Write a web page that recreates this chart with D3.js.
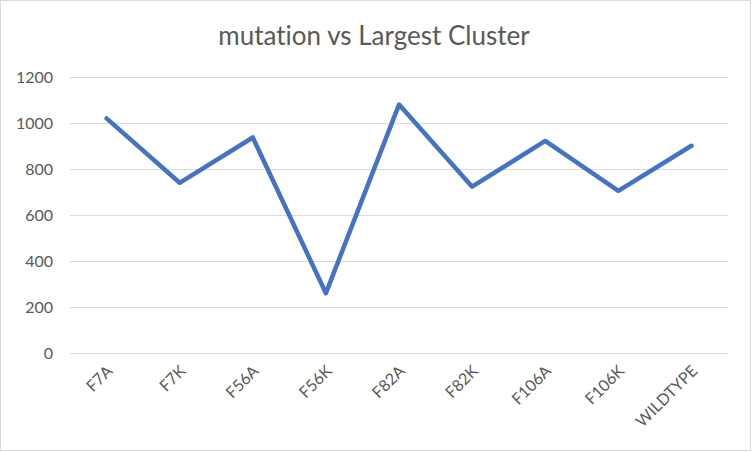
<!DOCTYPE html>
<html><head><meta charset="utf-8">
<script src="https://cdn.jsdelivr.net/npm/d3@7"></script>
<style>body{margin:0;background:#fff}svg{display:block}text{font-variant-ligatures:none;font-feature-settings:"liga" 0}</style>
</head><body>
<svg id="chart" width="752" height="452"></svg>
<script>
const categories = ["F7A","F7K","F56A","F56K","F82A","F82K","F106A","F106K","WILDTYPE"];
const values = [1020, 740, 937, 260, 1080, 723, 922, 705, 901];
const yTicks = [0, 200, 400, 600, 800, 1000, 1200];
const title = "mutation vs Largest Cluster";

const W = 752, H = 452;
const m = {left: 70, right: 24, top: 77, bottom: 99};
const svg = d3.select("#chart");
const font = "Lato, 'Open Sans', sans-serif";

svg.append("rect").attr("x",0.5).attr("y",0.5).attr("width",750).attr("height",450)
  .attr("fill","#fff").attr("stroke","#d9d9d9").attr("stroke-width",1);

const x = d3.scaleBand().domain(categories).range([m.left, W - m.right]).padding(0);
const y = d3.scaleLinear().domain([0, 1200]).range([H - m.bottom, m.top]);

svg.append("text").attr("x", 374).attr("y", 45).attr("text-anchor","middle")
  .attr("font-family", font).attr("font-size", 26).attr("fill","#595959").text(title);

// gridlines
const yAxis = d3.axisLeft(y).tickValues(yTicks).tickFormat(d3.format("d"))
  .tickSize(-(W - m.left - m.right)).tickPadding(17);
const gy = svg.append("g").attr("transform", `translate(${m.left},0)`).call(yAxis);
gy.select(".domain").remove();
gy.selectAll(".tick line").attr("stroke","#d9d9d9").attr("stroke-width",1)
  .attr("shape-rendering","crispEdges");
gy.selectAll(".tick text").attr("font-family", font).attr("font-size", 16).attr("fill","#595959");

// x axis labels
const xAxis = d3.axisBottom(x).tickSize(0).tickPadding(0);
const gx = svg.append("g").attr("transform", `translate(0,${H - m.bottom})`).call(xAxis);
gx.select(".domain").remove();
gx.selectAll(".tick text")
  .attr("font-family", font).attr("font-size", 16).attr("fill","#595959")
  .attr("text-anchor","end").attr("dy", null).attr("y", 0).attr("x", 0)
  .attr("transform","translate(7,19) rotate(-45)");

const line = d3.line().x((d,i) => x(categories[i]) + x.bandwidth()/2).y(d => y(d));
svg.append("path").datum(values).attr("d", line).attr("fill","none")
  .attr("stroke","#4472C4").attr("stroke-width",4.5).attr("stroke-linejoin","round").attr("stroke-linecap","round");
</script>
</body></html>
